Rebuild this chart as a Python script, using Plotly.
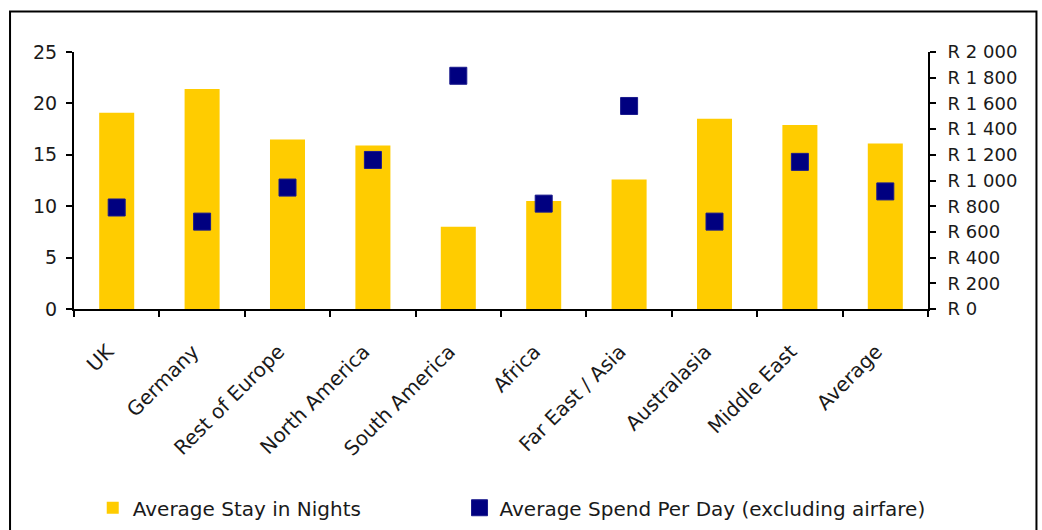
import plotly.graph_objects as go

# Regions and their values
regions = ["UK", "Germany", "Rest of Europe", "North America", "South America",
           "Africa", "Far East / Asia", "Australasia", "Middle East", "Average"]
stay_nights = [19.1, 21.4, 16.5, 15.9, 8.0, 10.5, 12.6, 18.5, 17.9, 16.1]
spend_per_day = [790, 680, 945, 1160, 1815, 820, 1580, 680, 1145, 915]

left_ticks = [0, 5, 10, 15, 20, 25]
right_ticks = list(range(0, 2001, 200))


def rand_label(v):
    # South African rand with a space as thousands separator
    return "R " + f"{v:,}".replace(",", " ")


right_labels = [rand_label(v) for v in right_ticks]
# trailing no-break spaces pull the slanted labels back from the tick position
region_labels = [r + "\u00a0\u00a0" for r in regions]

FONT = "DejaVu Sans"
TXT = "#1a1a1a"
n = len(regions)

fig = go.Figure()
fig.add_trace(go.Bar(
    x=regions, y=stay_nights, name="Average Stay in Nights",
    marker=dict(color="#FFCC00", line=dict(width=0)), legend="legend",
))
fig.add_trace(go.Scatter(
    x=regions, y=spend_per_day, name="Average Spend Per Day (excluding airfare)",
    mode="markers", yaxis="y2", legend="legend2",
    marker=dict(symbol="square", size=17, color="#000080",
                line=dict(color="#1a1a8c", width=1)),
))

axis_line = dict(showline=True, linecolor="black", linewidth=2, automargin=False,
                 tickcolor="black", tickwidth=2, showgrid=False, zeroline=False)
legend_font = dict(family=FONT, size=20, color=TXT)

fig.update_layout(
    width=1042, height=530,
    margin=dict(l=74, r=114, t=52, b=221, autoexpand=False),
    paper_bgcolor="white", plot_bgcolor="white",
    font=dict(family=FONT, size=18, color=TXT),
    bargap=0.59,
    showlegend=True,
    legend=dict(orientation="h", xref="container", yref="container",
                x=0.089, xanchor="left", y=0.042, yanchor="middle",
                font=legend_font, itemwidth=30),
    legend2=dict(orientation="h", xref="container", yref="container",
                 x=0.441, xanchor="left", y=0.042, yanchor="middle",
                 font=legend_font, itemwidth=30),
    xaxis=dict(type="category", range=[-0.5, n - 0.5], ticks="outside",
               tickmode="array", tickvals=regions, ticktext=region_labels,
               tickson="boundaries", ticklen=6, tickangle=-45, ticklabelstandoff=12,
               tickfont=dict(family=FONT, size=20, color=TXT), **axis_line),
    xaxis2=dict(overlaying="x", anchor="y", range=[-0.5, n - 0.5],
                tickmode="array", tickvals=[i - 0.5 for i in range(n + 1)],
                ticks="inside", ticklen=6, tickwidth=2, tickcolor="black",
                showticklabels=False, showgrid=False, zeroline=False, showline=False),
    yaxis=dict(range=[0, 25], tickmode="array", tickvals=left_ticks,
               ticks="outside", ticklen=6, ticklabelstandoff=5,
               tickfont=dict(family=FONT, size=19, color=TXT), **axis_line),
    yaxis3=dict(overlaying="y", anchor="x", range=[0, 25], tickmode="array",
                tickvals=left_ticks, ticks="inside", ticklen=6, tickwidth=2,
                tickcolor="black", showticklabels=False, showgrid=False,
                zeroline=False, showline=False),
    yaxis2=dict(overlaying="y", side="right", anchor="x", range=[0, 2000],
                tickmode="array", tickvals=right_ticks, ticktext=right_labels,
                ticks="outside", ticklen=6, ticklabelstandoff=8,
                tickfont=dict(family=FONT, size=18, color=TXT), **axis_line),
    yaxis4=dict(overlaying="y", side="right", anchor="x", range=[0, 2000],
                tickmode="array", tickvals=right_ticks, ticks="inside", ticklen=6,
                tickwidth=2, tickcolor="black", showticklabels=False,
                showgrid=False, zeroline=False, showline=False),
    shapes=[dict(type="rect", xref="paper", yref="paper",
                 x0=-0.0749, x1=1.127, y0=-1.2, y1=1.158,
                 line=dict(color="black", width=2), fillcolor="rgba(0,0,0,0)",
                 layer="above")],
)

fig.write_html("out.html")
